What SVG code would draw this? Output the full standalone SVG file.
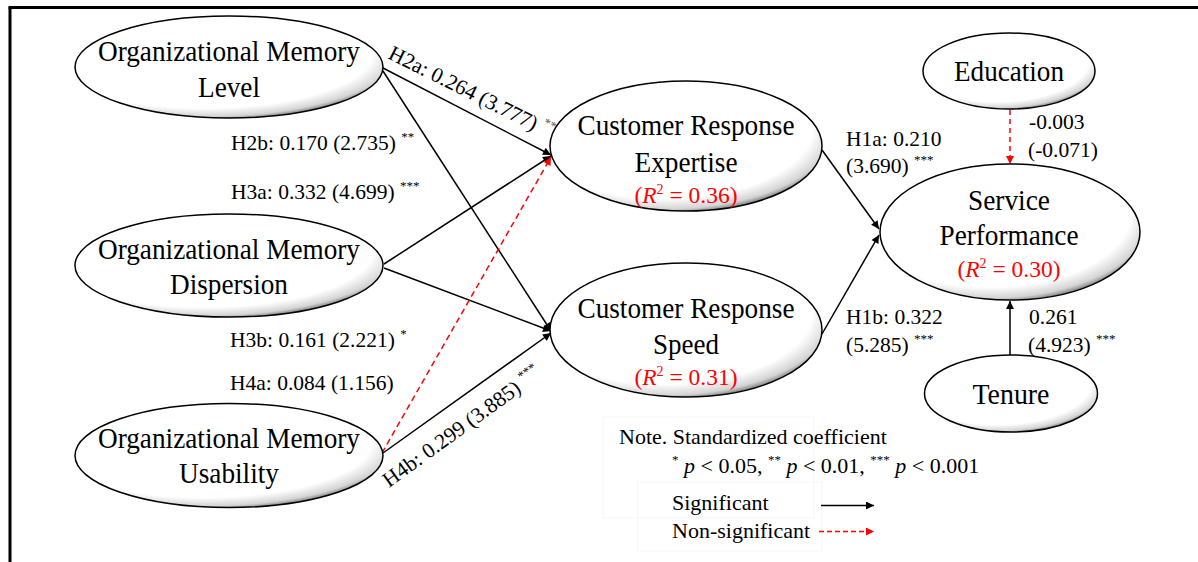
<svg xmlns="http://www.w3.org/2000/svg" width="1198" height="562" viewBox="0 0 1198 562">
<style>
text{font-family:"Liberation Serif","Times New Roman",serif;fill:#000}
.node{font-size:29px;text-anchor:middle}
.r2{font-size:23.5px;text-anchor:middle;fill:#ff0000}
.lbl{font-size:21.5px}
.leg{font-size:22px}
.ell{fill:url(#shade);stroke:#000;stroke-width:1.5}
.sig{stroke:#000;stroke-width:1.5;fill:none;marker-end:url(#ab)}
.ns{stroke:#ff0000;stroke-width:1.5;fill:none;stroke-dasharray:6,4;marker-end:url(#ar)}
</style>
<defs>
<radialGradient id="shade" cx="0.42" cy="0.36" r="0.68">
<stop offset="0" stop-color="#ffffff"/>
<stop offset="0.8" stop-color="#ffffff"/>
<stop offset="0.92" stop-color="#d4d4d4"/>
<stop offset="1" stop-color="#555555"/>
</radialGradient>
<marker id="ab" viewBox="0 0 10 10" refX="10" refY="5" markerWidth="11" markerHeight="8" markerUnits="userSpaceOnUse" orient="auto"><path d="M0,0 L10,5 L0,10 z" fill="#000"/></marker>
<marker id="ar" viewBox="0 0 10 10" refX="10" refY="5" markerWidth="11" markerHeight="8" markerUnits="userSpaceOnUse" orient="auto"><path d="M0,0 L10,5 L0,10 z" fill="#ff0000"/></marker>
</defs>
<rect x="0" y="0" width="1198" height="562" fill="#fff"/>
<g id="frame" stroke="#000" stroke-width="3">
<line x1="10" y1="7" x2="10" y2="562"/>
<line x1="8.5" y1="7.5" x2="1198" y2="7.5"/>
</g>

<g id="connectors">
<line class="sig" x1="383" y1="68" x2="551" y2="155"/>
<line class="sig" x1="383" y1="71" x2="551" y2="331"/>
<line class="sig" x1="384" y1="264" x2="551" y2="156"/>
<line class="sig" x1="384" y1="268" x2="551" y2="331"/>
<line class="ns" x1="382" y1="453" x2="551" y2="157"/>
<line class="sig" x1="383" y1="453" x2="551" y2="333"/>
<line class="sig" x1="822" y1="150" x2="879" y2="229"/>
<line class="sig" x1="822" y1="334" x2="879" y2="235"/>
<line class="ns" x1="1010" y1="110" x2="1010" y2="164" style="stroke-dasharray:5,4"/>
<line class="sig" x1="1010" y1="355" x2="1010" y2="301"/>
</g>

<g id="labels">
<text class="lbl" transform="translate(387,58) rotate(26.5)">H2a: 0.264 (3.777) <tspan font-size="13" dy="-9" fill="#555">***</tspan></text>
<text class="lbl" x="231" y="150">H2b: 0.170 (2.735) <tspan font-size="13" dy="-9">**</tspan></text>
<text class="lbl" x="231" y="199">H3a: 0.332 (4.699) <tspan font-size="13" dy="-9">***</tspan></text>
<text class="lbl" x="230" y="347">H3b: 0.161 (2.221) <tspan font-size="13" dy="-9">*</tspan></text>
<text class="lbl" x="230" y="390">H4a: 0.084 (1.156)</text>
<text class="lbl" transform="translate(389,488) rotate(-36)">H4b: 0.299 (3.885) <tspan font-size="13" dy="-9">***</tspan></text>
<text class="lbl" x="846" y="146">H1a: 0.210</text>
<text class="lbl" x="846" y="173">(3.690) <tspan font-size="13" dy="-9">***</tspan></text>
<text class="lbl" x="846" y="324">H1b: 0.322</text>
<text class="lbl" x="846" y="352">(5.285) <tspan font-size="13" dy="-9">***</tspan></text>
<text class="lbl" x="1029" y="129">-0.003</text>
<text class="lbl" x="1028" y="157">(-0.071)</text>
<text class="lbl" x="1029" y="324">0.261</text>
<text class="lbl" x="1028" y="352">(4.923) <tspan font-size="13" dy="-9">***</tspan></text>
</g>

<g id="oml">
<ellipse class="ell" cx="229" cy="67" rx="154" ry="51"/>
<text class="node" x="229" y="61" textLength="262" lengthAdjust="spacingAndGlyphs">Organizational Memory</text>
<text class="node" x="229" y="97" textLength="62" lengthAdjust="spacingAndGlyphs">Level</text>
</g>
<g id="omd">
<ellipse class="ell" cx="229" cy="265.5" rx="154" ry="51.5"/>
<text class="node" x="229" y="259" textLength="262" lengthAdjust="spacingAndGlyphs">Organizational Memory</text>
<text class="node" x="229" y="294" textLength="118" lengthAdjust="spacingAndGlyphs">Dispersion</text>
</g>
<g id="omu">
<ellipse class="ell" cx="229" cy="455.5" rx="154" ry="52"/>
<text class="node" x="229" y="448" textLength="262" lengthAdjust="spacingAndGlyphs">Organizational Memory</text>
<text class="node" x="229" y="483" textLength="100" lengthAdjust="spacingAndGlyphs">Usability</text>
</g>
<g id="cre">
<ellipse class="ell" cx="686" cy="146" rx="136" ry="65"/>
<text class="node" x="686" y="135" textLength="217" lengthAdjust="spacingAndGlyphs">Customer Response</text>
<text class="node" x="686" y="172" textLength="103" lengthAdjust="spacingAndGlyphs">Expertise</text>
<text class="r2" x="686" y="203">(<tspan font-style="italic" fill="#ff0000">R</tspan><tspan font-size="14" dy="-9" fill="#ff0000">2</tspan><tspan dy="9" fill="#ff0000"> = 0.36)</tspan></text>
</g>
<g id="crs">
<ellipse class="ell" cx="686" cy="330" rx="136" ry="67"/>
<text class="node" x="686" y="318" textLength="217" lengthAdjust="spacingAndGlyphs">Customer Response</text>
<text class="node" x="686" y="354" textLength="66" lengthAdjust="spacingAndGlyphs">Speed</text>
<text class="r2" x="686" y="385">(<tspan font-style="italic" fill="#ff0000">R</tspan><tspan font-size="14" dy="-9" fill="#ff0000">2</tspan><tspan dy="9" fill="#ff0000"> = 0.31)</tspan></text>
</g>
<g id="sp">
<ellipse class="ell" cx="1010" cy="232" rx="130" ry="68"/>
<text class="node" x="1009" y="210" textLength="82" lengthAdjust="spacingAndGlyphs">Service</text>
<text class="node" x="1009" y="245" textLength="139" lengthAdjust="spacingAndGlyphs">Performance</text>
<text class="r2" x="1009" y="277">(<tspan font-style="italic" fill="#ff0000">R</tspan><tspan font-size="14" dy="-9" fill="#ff0000">2</tspan><tspan dy="9" fill="#ff0000"> = 0.30)</tspan></text>
</g>
<g id="edu">
<ellipse class="ell" cx="1009" cy="71" rx="86" ry="38"/>
<text class="node" x="1009" y="81" textLength="110" lengthAdjust="spacingAndGlyphs">Education</text>
</g>
<g id="ten">
<ellipse class="ell" cx="1011" cy="393.5" rx="86.5" ry="38.5"/>
<text class="node" x="1011" y="404" textLength="77" lengthAdjust="spacingAndGlyphs">Tenure</text>
</g>

<g id="legend">
<rect x="603" y="417" width="211" height="101" fill="none" stroke="#f6f6f6" stroke-width="1"/>
<rect x="638" y="482" width="184" height="69" fill="none" stroke="#f6f6f6" stroke-width="1"/>
<text class="leg" x="619" y="444">Note. Standardized coefficient</text>
<text class="leg" x="672" y="473"><tspan font-size="13" dy="-9">*</tspan><tspan dy="9"> </tspan><tspan font-style="italic">p</tspan> &lt; 0.05, <tspan font-size="13" dy="-9">**</tspan><tspan dy="9"> </tspan><tspan font-style="italic">p</tspan> &lt; 0.01, <tspan font-size="13" dy="-9">***</tspan><tspan dy="9"> </tspan><tspan font-style="italic">p</tspan> &lt; 0.001</text>
<text class="leg" x="672" y="510">Significant</text>
<text class="leg" x="672" y="538">Non-significant</text>
<line class="sig" x1="821" y1="505.5" x2="874" y2="505.5"/>
<line class="ns" x1="819" y1="531.5" x2="874" y2="531.5" style="stroke-dasharray:5,3"/>
</g>
</svg>
